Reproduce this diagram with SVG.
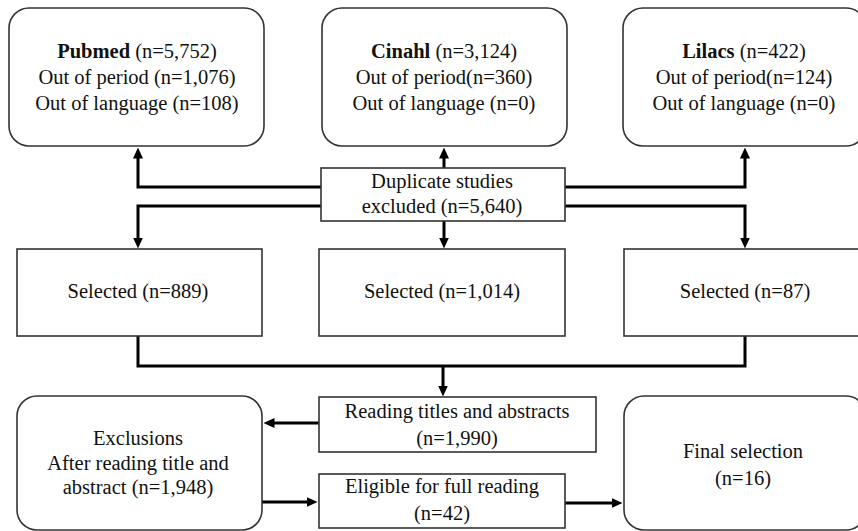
<svg xmlns="http://www.w3.org/2000/svg" width="858" height="531" viewBox="0 0 858 531">
<style>
  .box { fill: #fff; stroke: #333; stroke-width: 1.6; }
  .conn { fill: none; stroke: #000; stroke-width: 3; stroke-linejoin: miter; }
  text { font-family: 'Liberation Serif', Tinos, 'Times New Roman', 'DejaVu Serif', serif; font-size: 20.5px; fill: #111; text-anchor: middle; }
  .b { font-weight: bold; }
</style>
<defs>
  <marker id="ah" markerUnits="userSpaceOnUse" markerWidth="11" markerHeight="10" refX="0.5" refY="5" orient="auto">
    <path d="M0,0 L11,5 L0,10 z" fill="#000"/>
  </marker>
</defs>
<rect width="858" height="531" fill="#fff"/>

<g id="connectors">
  <path class="conn" d="M321,187 H138 V158" marker-end="url(#ah)"/>
  <path class="conn" d="M444,168 V158" marker-end="url(#ah)"/>
  <path class="conn" d="M565,187 H745 V158" marker-end="url(#ah)"/>
  <path class="conn" d="M321,206 H138 V238" marker-end="url(#ah)"/>
  <path class="conn" d="M444,221 V238" marker-end="url(#ah)"/>
  <path class="conn" d="M565,206 H745 V238" marker-end="url(#ah)"/>
  <path class="conn" d="M138,336 V366 H745 V336"/>
  <path class="conn" d="M443,366 V386" marker-end="url(#ah)"/>
  <path class="conn" d="M319,423 H274" marker-end="url(#ah)"/>
  <path class="conn" d="M262,502 H307" marker-end="url(#ah)"/>
  <path class="conn" d="M565,503 H612" marker-end="url(#ah)"/>
</g>

<g id="pubmed" font-family="Liberation Serif, serif">
  <rect class="box" x="9" y="8" width="255" height="138" rx="20"/>
  <text x="137" y="58"><tspan class="b">Pubmed</tspan> (n=5,752)</text>
  <text x="137" y="84">Out of period (n=1,076)</text>
  <text x="137" y="110">Out of language (n=108)</text>
</g>
<g id="cinahl">
  <rect class="box" x="322" y="8" width="245" height="138" rx="20"/>
  <text x="444" y="58"><tspan class="b">Cinahl</tspan> (n=3,124)</text>
  <text x="444" y="84">Out of period(n=360)</text>
  <text x="444" y="110">Out of language (n=0)</text>
</g>
<g id="lilacs">
  <rect class="box" x="623" y="8" width="243" height="138" rx="20"/>
  <text x="744" y="58"><tspan class="b">Lilacs</tspan> (n=422)</text>
  <text x="744" y="84">Out of period(n=124)</text>
  <text x="744" y="110">Out of language (n=0)</text>
</g>
<g id="duplicates">
  <rect class="box" x="321" y="168" width="244" height="53"/>
  <text x="442" y="188">Duplicate studies</text>
  <text x="442" y="213">excluded (n=5,640)</text>
</g>
<g id="sel1">
  <rect class="box" x="17" y="249" width="245" height="87"/>
  <text x="138" y="298">Selected (n=889)</text>
</g>
<g id="sel2">
  <rect class="box" x="319" y="249" width="246" height="87"/>
  <text x="442" y="298">Selected (n=1,014)</text>
</g>
<g id="sel3">
  <rect class="box" x="624" y="249" width="242" height="87"/>
  <text x="745" y="298">Selected (n=87)</text>
</g>
<g id="reading">
  <rect class="box" x="319" y="397" width="277" height="55"/>
  <text x="457" y="418">Reading titles and abstracts</text>
  <text x="457" y="445">(n=1,990)</text>
</g>
<g id="exclusions">
  <rect class="box" x="17" y="396" width="245" height="134" rx="20"/>
  <text x="138" y="445">Exclusions</text>
  <text x="138" y="470">After reading title and</text>
  <text x="138" y="494">abstract (n=1,948)</text>
</g>
<g id="eligible">
  <rect class="box" x="319" y="474" width="246" height="54"/>
  <text x="442" y="493">Eligible for full reading</text>
  <text x="442" y="520">(n=42)</text>
</g>
<g id="final">
  <rect class="box" x="624" y="396" width="242" height="134" rx="20"/>
  <text x="743" y="458">Final selection</text>
  <text x="743" y="485">(n=16)</text>
</g>
</svg>
